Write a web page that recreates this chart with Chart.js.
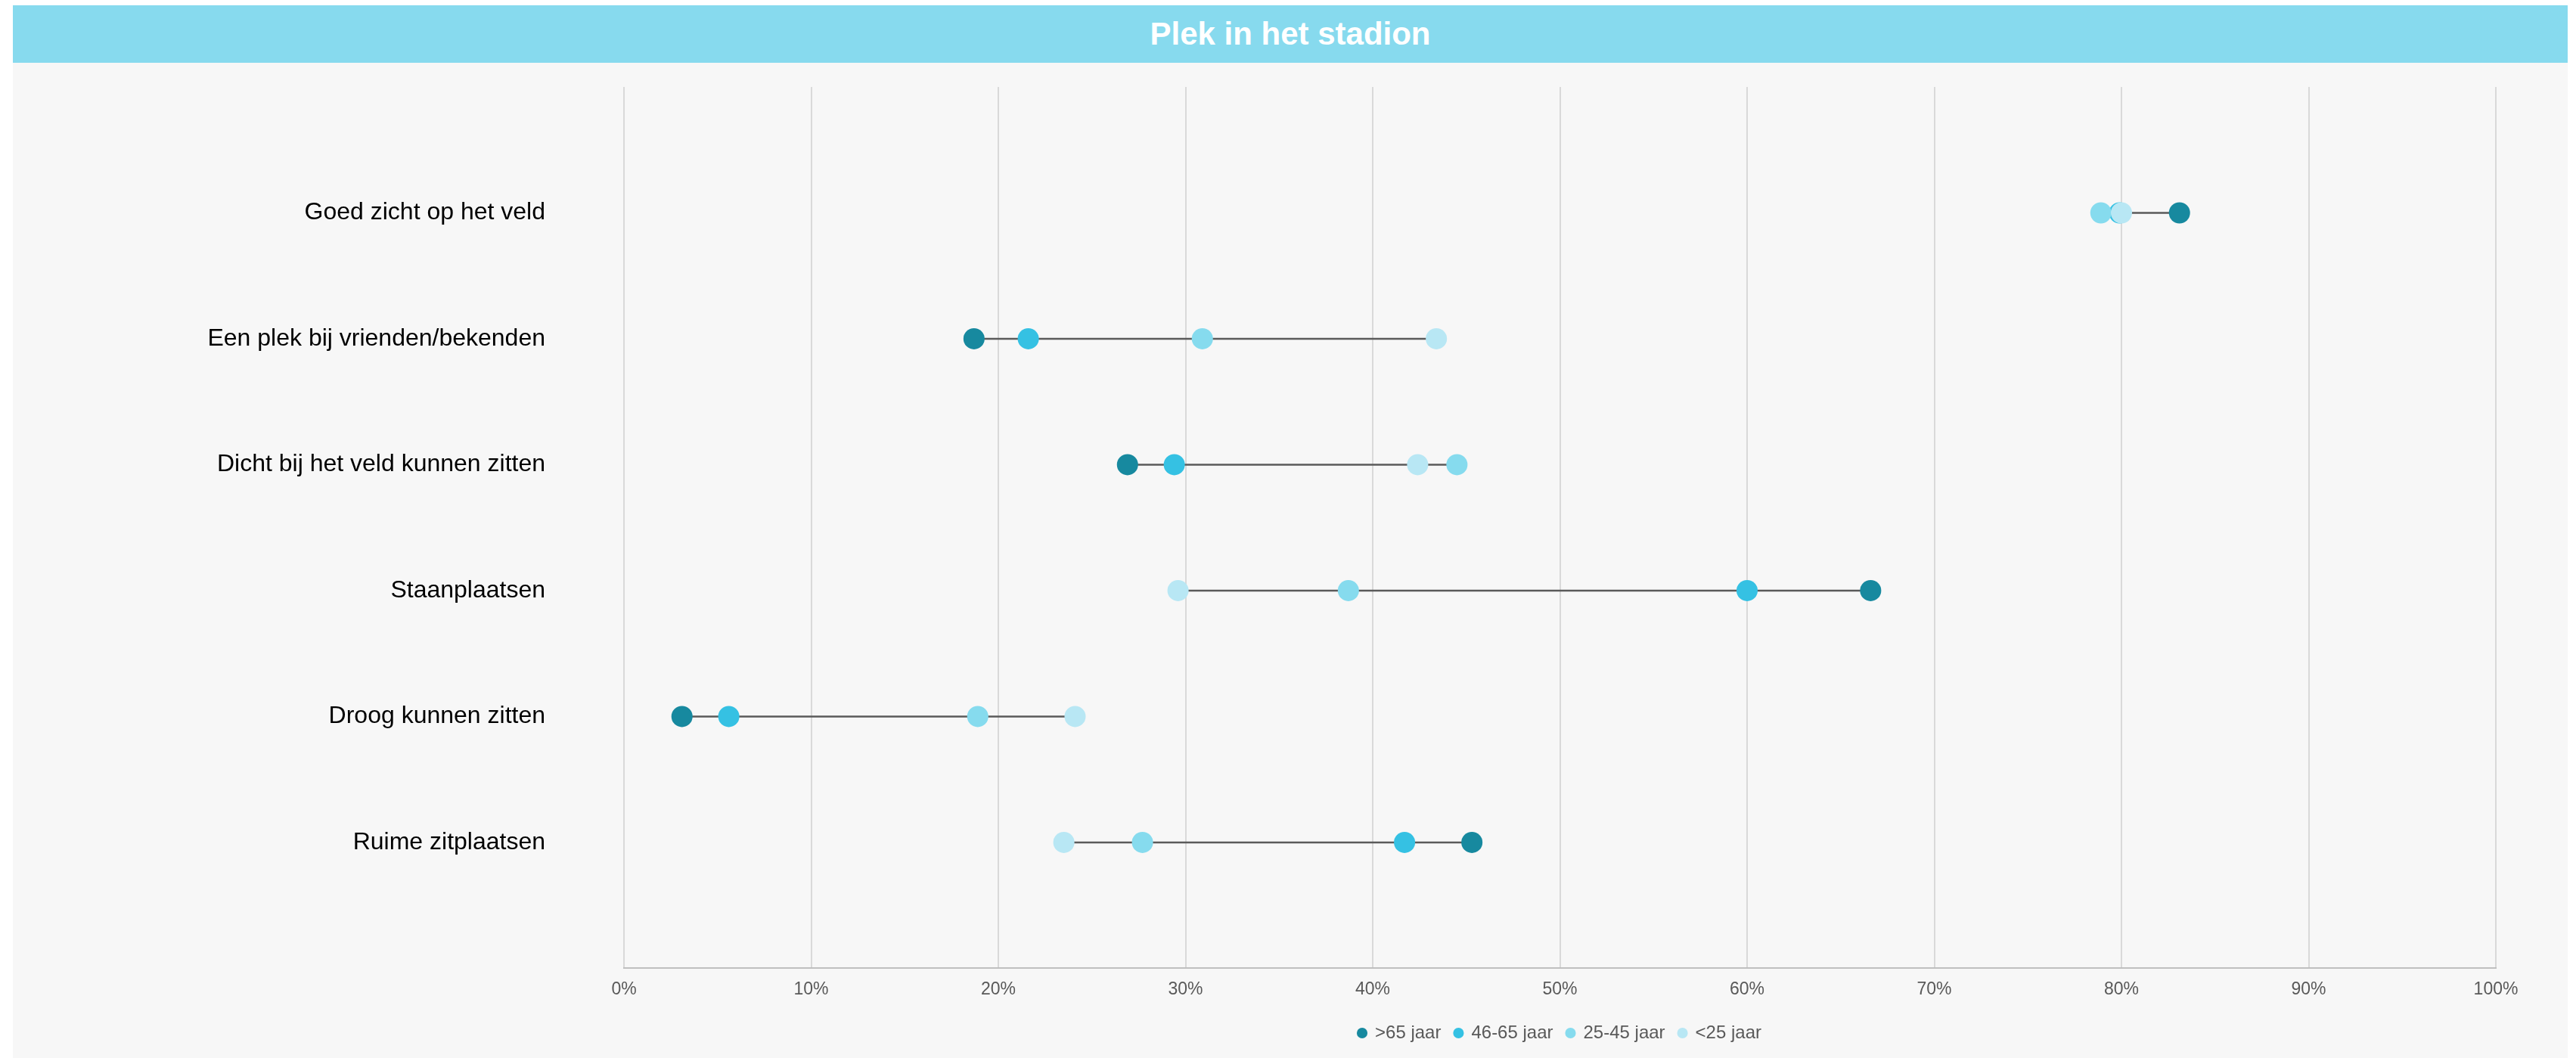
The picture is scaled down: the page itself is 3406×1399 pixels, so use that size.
<!DOCTYPE html>
<html>
<head>
<meta charset="utf-8">
<script src="https://cdn.jsdelivr.net/npm/chart.js@4"></script>
<style>
  html, body { margin: 0; padding: 0; background: #fff; }
  #wrap { position: absolute; left: 17px; top: 7px; width: 3378px; height: 1392px; background: #f7f7f7; }
  #title {
    height: 76px; line-height: 76px; background: #87daee; color: #fff; text-align: center;
    font-family: "Liberation Sans", Arial, sans-serif; font-weight: bold; font-size: 42px;
  }
  #box { position: relative; width: 3378px; height: 1316px; }
</style>
</head>
<body>
<div id="wrap">
  <div id="title">Plek in het stadion</div>
  <div id="box"><canvas id="chart-plek"></canvas></div>
</div>
<script>
const categories = [
  "Goed zicht op het veld",
  "Een plek bij vrienden/bekenden",
  "Dicht bij het veld kunnen zitten",
  "Staanplaatsen",
  "Droog kunnen zitten",
  "Ruime zitplaatsen"
];
const seriesNames = [">65 jaar", "46-65 jaar", "25-45 jaar", "<25 jaar"];
const over65 = [83.1, 18.7, 26.9, 66.6, 3.1, 45.3];
const age46to65 = [79.9, 21.6, 29.4, 60.0, 5.6, 41.7];
const age25to45 = [78.9, 30.9, 44.5, 38.7, 18.9, 27.7];
const under25 = [80.0, 43.4, 42.4, 29.6, 24.1, 23.5];
const xTicks = [0, 10, 20, 30, 40, 50, 60, 70, 80, 90, 100];

(function () {
  const colors = ["#17899f", "#35c1e3", "#86dbee", "#b8e7f4"];
  const allSeries = [over65, age46to65, age25to45, under25];
  const font = '"Liberation Sans", Arial, sans-serif';

  const pointSets = allSeries.map(function (vals, s) {
    return {
      label: seriesNames[s],
      data: vals.map(function (v, i) { return { x: v, y: i + 1 }; }),
      backgroundColor: colors[s],
      borderColor: colors[s],
      borderWidth: 0,
      pointRadius: 14,
      pointHoverRadius: 14,
      order: 4 - s
    };
  });

  // grey connector from lowest to highest value in each row
  const lineSets = categories.map(function (c, i) {
    const row = allSeries.map(function (a) { return a[i]; });
    return {
      label: "line-" + i,
      data: [{ x: Math.min.apply(null, row), y: i + 1 }, { x: Math.max.apply(null, row), y: i + 1 }],
      showLine: true,
      borderColor: "#5a5a5a",
      borderWidth: 2.5,
      pointRadius: 0,
      order: 10
    };
  });

  new Chart(document.getElementById("chart-plek"), {
    type: "scatter",
    data: { datasets: pointSets.concat(lineSets) },
    options: {
      responsive: true,
      maintainAspectRatio: false,
      animation: false,
      layout: { padding: { top: 32, right: 95, bottom: 11, left: 0 } },
      plugins: {
        tooltip: { enabled: false },
        legend: {
          position: "bottom",
          fullSize: false,
          reverse: true,
          labels: {
            filter: function (item) { return item.datasetIndex < 4; },
            usePointStyle: true,
            pointStyle: "circle",
            boxWidth: 10,
            boxHeight: 10,
            padding: 18,
            color: "#595959",
            font: { family: font, size: 24 }
          }
        }
      },
      scales: {
        x: {
          type: "linear",
          min: 0,
          max: 100,
          afterBuildTicks: function (axis) {
            axis.ticks = xTicks.map(function (v) { return { value: v }; });
          },
          grid: { color: "#d9d9d9", lineWidth: 2, drawTicks: false },
          border: { color: "#bfbfbf", width: 2 },
          ticks: {
            padding: 14,
            color: "#595959",
            font: { family: font, size: 23 },
            callback: function (v) { return v + "%"; }
          }
        },
        y: {
          type: "linear",
          min: 0,
          max: 7,
          reverse: true,
          afterFit: function (axis) { axis.width = 808; },
          grid: { display: false, drawTicks: true, tickLength: 100 },
          border: { display: false },
          ticks: {
            stepSize: 1,
            padding: 4,
            color: "#000",
            font: { family: font, size: 32 },
            callback: function (v) { return categories[v - 1] || ""; }
          }
        }
      }
    }
  });
})();
</script>
</body>
</html>
